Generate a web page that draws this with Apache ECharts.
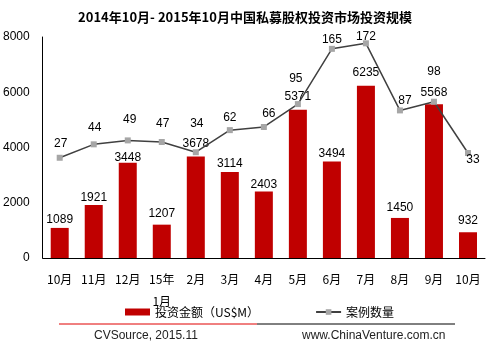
<!DOCTYPE html>
<html><head><meta charset="utf-8">
<script src="https://cdn.jsdelivr.net/npm/echarts@6/dist/echarts.min.js"></script>
<style>html,body{margin:0;padding:0;background:#fff}#c{width:490px;height:349px}</style>
</head><body><div id="c"></div>
<script>
const categories = ['10月','11月','12月','15年\n1月','2月','3月','4月','5月','6月','7月','8月','9月','10月'];
const investAmount = [1089,1921,3448,1207,3678,3114,2403,5371,3494,6235,1450,5568,932];
const caseCount = [27,44,49,47,34,62,66,95,165,172,87,98,33];
const yTicks = [0,2000,4000,6000,8000];

// label placement styling (kept separate from data)
const barLabelDy = [1,2,4,-2,-4,1,2,-4,1,-4,-1,-2,-3];
const lineLabelOffset = [[1,-14],[1,-17],[2,-21],[1,-18],[1,-29],[0,-12],[5,-13],[-2,-25],[0,-9],[0,-7],[5,-10],[0,-30],[5,7]];

const font = 'Liberation Sans, Arial, sans-serif';
const chart = echarts.init(document.getElementById('c'));
chart.setOption({
  animation: false,
  textStyle: {fontFamily: font},
  title: {
    text: '2014年10月- 2015年10月中国私募股权投资市场投资规模',
    left: 'center', top: 6,
    textStyle: {fontSize: 13, fontWeight: 'bold', color: '#000', fontFamily: 'Noto Sans CJK SC, sans-serif'}
  },
  grid: {left: 41, right: 5, top: 37, bottom: 91, containLabel: false},
  legend: {
    left: 125, top: 306, padding: 0, itemWidth: 25, itemHeight: 7, itemGap: 58, itemGap: 56,
    textStyle: {fontSize: 12, color: '#000', fontFamily: 'Noto Sans CJK SC, sans-serif'},
    data: [
      {name: '投资金额（US$M）', icon: 'rect'},
      {name: '案例数量'}
    ]
  },
  xAxis: {
    type: 'category', data: categories,
    axisLine: {lineStyle: {color: '#000', width: 1}},
    axisTick: {show: false},
    axisLabel: {fontSize: 12, color: '#000', margin: 10, lineHeight: 22, interval: 0, fontFamily: 'Noto Sans CJK SC, sans-serif'}
  },
  yAxis: [
    {type: 'value', min: yTicks[0], max: yTicks[yTicks.length-1], interval: 2000,
     axisLine: {show: true, lineStyle: {color: '#000'}}, axisTick: {show: false},
     splitLine: {show: false},
     axisLabel: {fontSize: 12, color: '#000', margin: 13, formatter: v => String(v)}},
    {type: 'value', min: -100, max: 180, show: false, splitLine: {show: false}}
  ],
  series: [
    {
      name: '投资金额（US$M）', type: 'bar', barWidth: 18,
      itemStyle: {color: '#c00000'},
      data: investAmount.map((v, i) => ({
        value: v,
        label: {offset: [0, barLabelDy[i]]}
      })),
      label: {show: true, position: 'top', distance: 3, fontSize: 12, color: '#000'}
    },
    {
      name: '案例数量', type: 'line', yAxisIndex: 1,
      symbol: 'rect', symbolSize: 6,
      lineStyle: {color: '#404040', width: 1.5},
      itemStyle: {color: '#a6a6a6'},
      data: caseCount.map((v, i) => ({
        value: v,
        label: {offset: lineLabelOffset[i]}
      })),
      label: {show: true, position: 'inside', fontSize: 12, color: '#000'},
      z: 5
    }
  ],
  graphic: [
    {type: 'line', shape: {x1: 59, y1: 324, x2: 257, y2: 324}, style: {stroke: '#e00000', lineWidth: 1}},
    {type: 'line', shape: {x1: 257, y1: 324, x2: 455, y2: 324}, style: {stroke: '#000', lineWidth: 1}},
    {type: 'text', left: 94, top: 330, style: {text: 'CVSource, 2015.11', fontSize: 12, fill: '#222', font: '12px ' + font}},
    {type: 'text', left: 302, top: 330, style: {text: 'www.ChinaVenture.com.cn', fontSize: 12, fill: '#222', font: '12px ' + font}}
  ]
});
</script></body></html>
